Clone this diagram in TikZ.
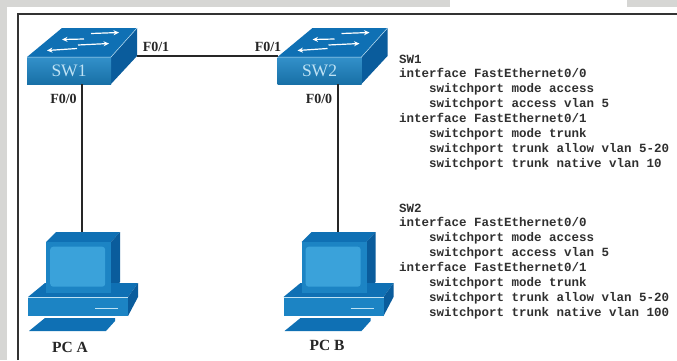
\documentclass[tikz,border=0pt]{standalone}
\usepackage{fontspec}
\setmainfont{Liberation Serif}
\setmonofont{Liberation Mono}
\usetikzlibrary{arrows.meta}
\definecolor{bandgray}{HTML}{D6D6D4}
\definecolor{ciscofront}{HTML}{1C84C4}
\definecolor{ciscotop}{HTML}{0F70B4}
\definecolor{ciscoside}{HTML}{0A5C9C}
\definecolor{ciscoscreen}{HTML}{3AA2DA}
\definecolor{ciscolight}{HTML}{BFE2F4}
\definecolor{cfgtext}{HTML}{303030}
\tikzset{
  topface/.style={fill=ciscotop,draw=none},
  sideface/.style={fill=ciscoside,draw=none},
  frontface/.style={inner sep=0pt,outer sep=0pt,anchor=north west,bottom color=ciscofront!85!black,top color=ciscofront!90!white,draw=none},
  swarrow/.style={draw=white,line width=1.2pt,-{Stealth[length=5.5pt,width=5pt]}},
  edgelight/.style={draw=ciscolight,line width=0.5pt},
  link/.style={draw=black!85,line width=1.7pt},
  frameline/.style={draw=black!80,line width=2pt},
  portlabel/.style={font=\bfseries\fontsize{14}{14}\selectfont,text=black!85,inner sep=0pt},
  pclabel/.style={font=\bfseries\fontsize{15.5}{15.5}\selectfont,text=black!85,inner sep=0pt},
  cfgblock/.style={font=\ttfamily\bfseries\fontsize{12.5}{14.9}\selectfont,text=cfgtext,align=left,anchor=north west,inner sep=0pt},
}
\newcommand{\switchicon}[4]{%
  \begin{scope}[shift={(#2,0)}]
    \fill[topface] (27,57) -- (62,28) -- (137,28) -- (111,57) -- cycle;
    \fill[sideface] (137,28) -- (137,56) -- (111,84) -- (111,57) -- cycle;
    \node[frontface,minimum width=84pt,minimum height=27pt,text=ciscolight,font=\fontsize{17.5}{17.5}\selectfont] (#1) at (27,57) {#3};
    \draw[edgelight] (27,57) -- (111,57) -- (137,28);
    \draw[swarrow] (91,33.5) -- (119,32.5);
    \draw[swarrow] (84,39) -- (62,39.5);
    \draw[swarrow] (78,45) -- (109,43.5);
    \draw[swarrow] (77,48.5) -- (47,50.5);
    \coordinate (#1back) at (137,56);
    \coordinate (#1left) at (27,56);
    \coordinate (#1front) at (#4,84);
  \end{scope}}
\newcommand{\pcicon}[3]{%
  \begin{scope}[shift={(#2,0)}]
    \fill[topface] (46,242) -- (56,232) -- (120,232) -- (111,242) -- cycle;
    \fill[sideface] (120,232) -- (120,282) -- (111,293) -- (111,242) -- cycle;
    \fill[ciscotop] (45,283) -- (138,283) -- (128,297) -- (28,297) -- cycle;
    \fill[sideface] (138,283) -- (138,297) -- (128,316) -- (128,297) -- cycle;
    \fill[ciscofront] (46,242) rectangle (111,293);
    \node[fill=ciscoscreen,inner sep=0pt,rounded corners=3pt,minimum width=55pt,minimum height=40pt,anchor=north west] (#1screen) at (50,246.5) {};
    \fill[ciscofront] (28,297) rectangle (128,316);
    \draw[edgelight] (28,297) -- (128,297);
    \draw[edgelight,line width=0.7pt] (95,308) -- (118,308);
    \fill[topface] (45,318) -- (115,318) -- (115,321) -- (106,331) -- (29,331) -- cycle;
    \coordinate (#1top) at (#3,232);
  \end{scope}}
\begin{document}
\begin{tikzpicture}[x=1pt,y=-1pt]
  \useasboundingbox (0,0) rectangle (677,360);
  \fill[white] (0,0) rectangle (677,360);
  \fill[bandgray] (0,0) rectangle (7,360);
  \fill[bandgray] (0,0) rectangle (450,7);
  \fill[bandgray] (627,0) rectangle (677,7);
  \draw[frameline] (17.5,360) -- (17.5,13.5) -- (677,13.5);

  \switchicon{swa}{0}{SW1}{82}
  \switchicon{swb}{250.5}{SW2}{87.5}
  \pcicon{pca}{0}{82}
  \pcicon{pcb}{255.5}{82.5}

  \draw[link] (swaback) -- (swbleft);
  \draw[link] (swafront) -- (pcatop);
  \draw[link] (swbfront) -- (pcbtop);

  \node[portlabel] (la) at (156,47) {F0/1};
  \node[portlabel] (lb) at (268,47) {F0/1};
  \node[portlabel] (lc) at (63.5,98.5) {F0/0};
  \node[portlabel] (ld) at (319,98.5) {F0/0};
  \node[pclabel] (pa) at (70,347) {PC A};
  \node[pclabel] (pb) at (327,345) {PC B};

  \node[cfgblock] (cfga) at (399,54.5) {SW1\\interface FastEthernet0/0\\
  \hspace*{30pt}switchport mode access\\
  \hspace*{30pt}switchport access vlan 5\\
  interface FastEthernet0/1\\
  \hspace*{30pt}switchport mode trunk\\
  \hspace*{30pt}switchport trunk allow vlan 5-20\\
  \hspace*{30pt}switchport trunk native vlan 10};
  \node[cfgblock] (cfgb) at (399,203.5) {SW2\\interface FastEthernet0/0\\
  \hspace*{30pt}switchport mode access\\
  \hspace*{30pt}switchport access vlan 5\\
  interface FastEthernet0/1\\
  \hspace*{30pt}switchport mode trunk\\
  \hspace*{30pt}switchport trunk allow vlan 5-20\\
  \hspace*{30pt}switchport trunk native vlan 100};
\end{tikzpicture}
\end{document}
